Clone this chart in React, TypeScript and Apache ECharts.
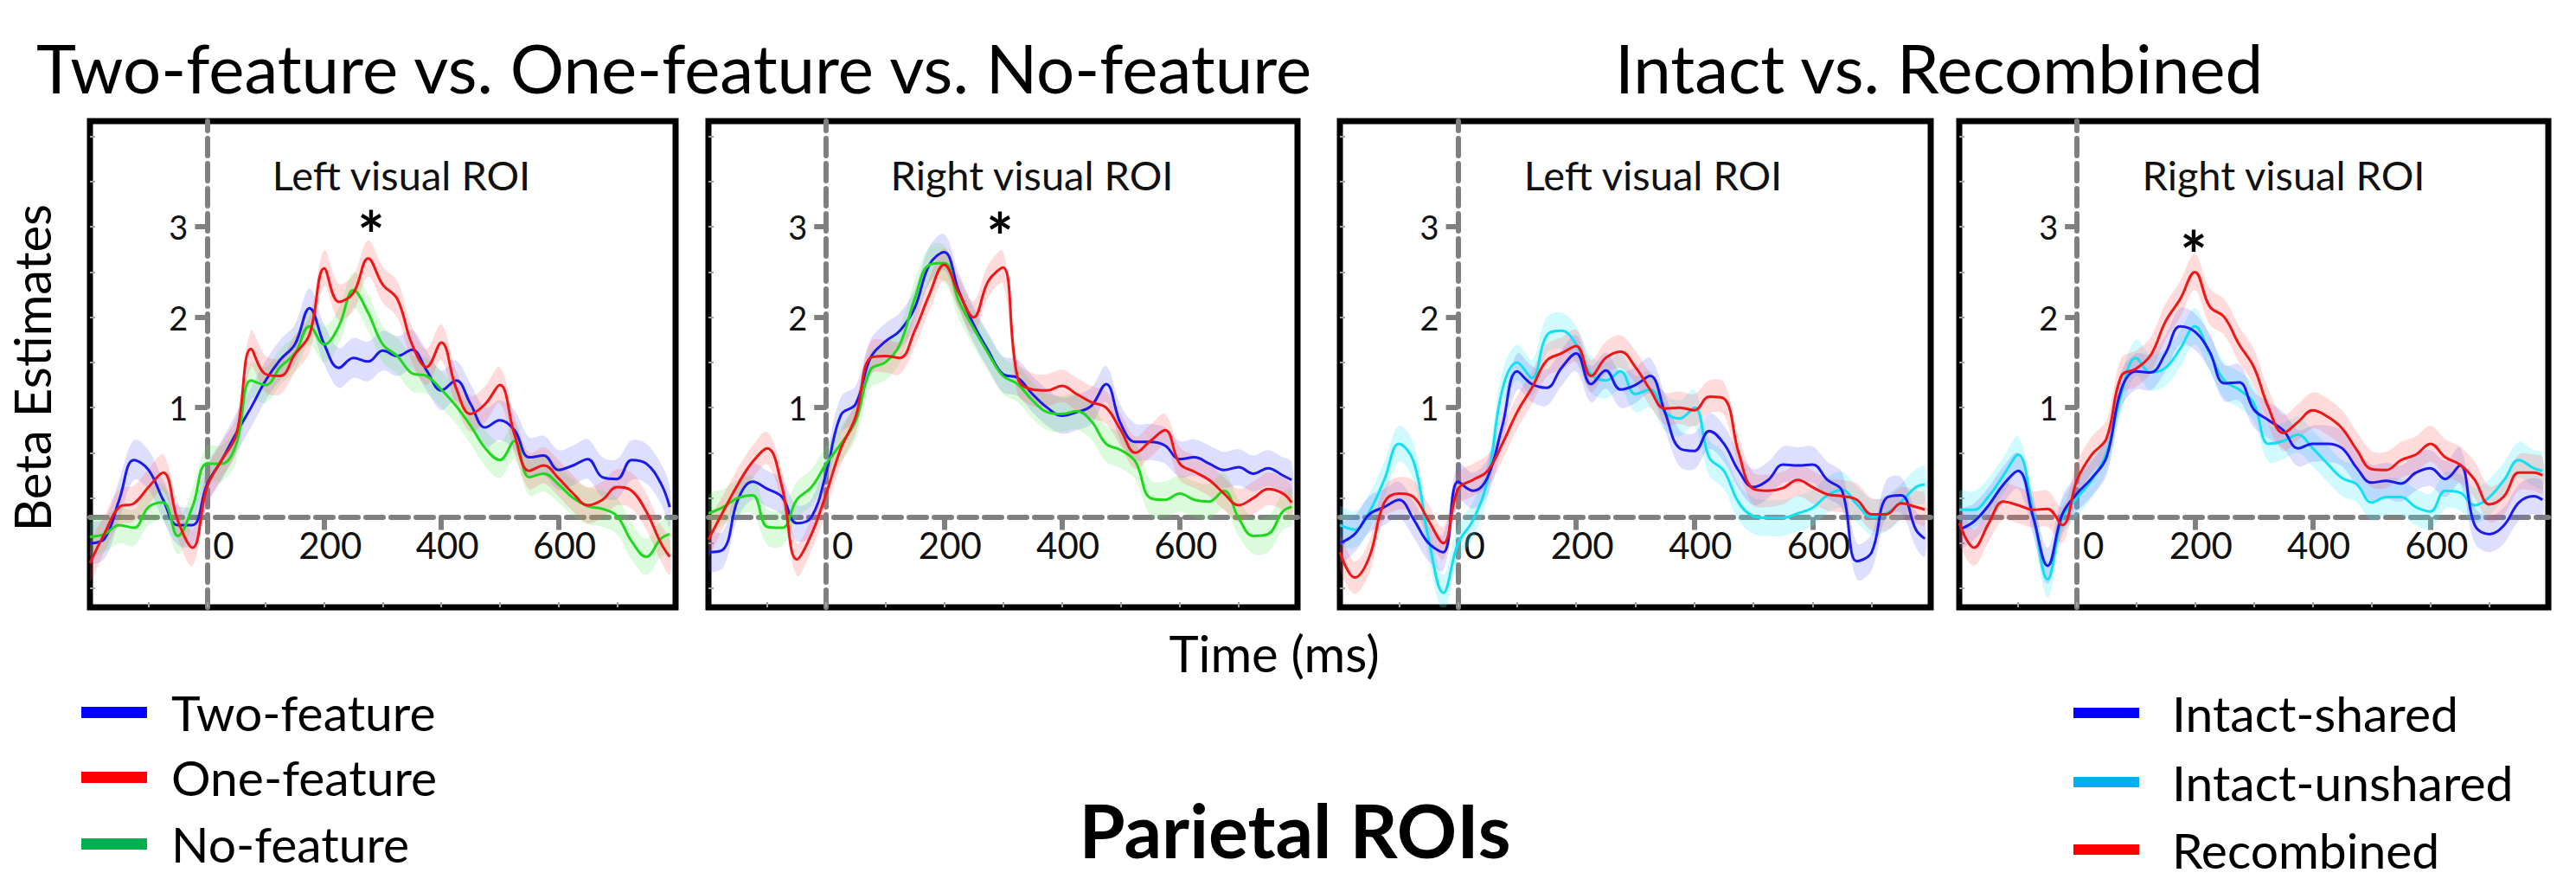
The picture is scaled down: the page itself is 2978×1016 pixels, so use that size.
import React, { useEffect, useRef } from 'react';
import * as echarts from 'echarts';

// ---------- data ----------
const times = [-200, -175, -150, -125, -100, -75, -50, -25, 0, 25, 50, 75, 100, 125, 150, 175, 200, 225, 250, 275, 300, 325, 350, 375, 400, 425, 450, 475, 500, 525, 550, 575, 600, 625, 650, 675, 700, 725, 750, 775, 790];

// Panel 1: Left visual ROI (Two / One / No feature)
const p1Two = [-0.5, -0.45, -0.02, 0.42, 0.31, -0.02, -0.3, -0.3, 0.15, 0.42, 0.72, 1.0, 1.3, 1.53, 1.7, 2.1, 1.7, 1.44, 1.55, 1.51, 1.63, 1.57, 1.64, 1.41, 1.19, 1.3, 1.04, 0.78, 0.86, 0.75, 0.45, 0.47, 0.31, 0.36, 0.43, 0.23, 0.21, 0.42, 0.38, 0.16, -0.1];
const p1One = [-0.72, -0.39, -0.1, -0.06, 0.12, 0.28, -0.25, -0.55, 0.12, 0.42, 0.7, 1.65, 1.37, 1.35, 1.59, 1.81, 2.54, 2.17, 2.27, 2.65, 2.36, 2.2, 1.7, 1.45, 1.72, 1.22, 0.93, 1.04, 1.25, 0.7, 0.3, 0.36, 0.22, 0.05, -0.08, -0.02, 0.12, 0.08, -0.15, -0.5, -0.65];
const p1No = [-0.43, -0.4, -0.3, -0.33, -0.1, -0.05, -0.42, -0.1, 0.38, 0.38, 0.6, 1.3, 1.25, 1.45, 1.6, 1.9, 1.7, 1.9, 2.3, 2.05, 1.7, 1.57, 1.38, 1.35, 1.2, 1.02, 0.8, 0.55, 0.42, 0.63, 0.23, 0.27, 0.15, 0.0, -0.09, -0.12, -0.2, -0.48, -0.65, -0.45, -0.4];

// Panel 2: Right visual ROI (Two / One / No feature)
const p2Two = [-0.6, -0.57, -0.02, 0.18, 0.1, 0.01, -0.28, -0.21, 0.28, 0.92, 1.04, 1.55, 1.73, 1.85, 2.1, 2.58, 2.72, 2.29, 1.92, 1.63, 1.37, 1.33, 1.15, 1.0, 0.91, 0.95, 1.02, 1.26, 0.82, 0.62, 0.62, 0.58, 0.43, 0.45, 0.38, 0.31, 0.34, 0.27, 0.33, 0.25, 0.2];
const p2One = [-0.46, -0.15, 0.15, 0.4, 0.55, 0.12, -0.68, -0.4, 0.05, 0.55, 0.9, 1.55, 1.57, 1.55, 1.85, 2.25, 2.58, 2.27, 2.0, 2.4, 2.55, 1.33, 1.2, 1.19, 1.24, 1.15, 1.06, 1.0, 0.75, 0.5, 0.63, 0.75, 0.38, 0.29, 0.2, 0.05, -0.08, 0.0, 0.1, 0.05, -0.05];
const p2No = [-0.17, -0.1, 0.0, 0.03, -0.32, -0.33, -0.02, 0.12, 0.38, 0.6, 0.85, 1.42, 1.5, 1.7, 2.2, 2.58, 2.6, 2.18, 1.88, 1.6, 1.35, 1.26, 1.08, 0.95, 0.93, 0.96, 0.85, 0.6, 0.53, 0.4, 0.0, -0.02, 0.05, -0.02, -0.04, 0.08, -0.22, -0.42, -0.4, -0.15, -0.1];

// Panel 3: Left visual ROI (Intact-shared / Intact-unshared / Recombined)
const p3Shared = [-0.5, -0.4, -0.18, -0.1, -0.02, -0.24, -0.5, -0.6, 0.18, 0.08, 0.23, 0.8, 1.4, 1.26, 1.22, 1.44, 1.6, 1.26, 1.41, 1.2, 1.25, 1.35, 0.95, 0.55, 0.52, 0.74, 0.6, 0.3, 0.12, 0.2, 0.37, 0.36, 0.37, 0.2, 0.08, -0.7, -0.6, 0.0, 0.03, -0.35, -0.45];
const p3Unshared = [-0.3, -0.35, -0.15, 0.2, 0.6, 0.4, -0.45, -1.05, -0.5, -0.25, 0.2, 1.2, 1.5, 1.33, 1.8, 1.85, 1.7, 1.37, 1.3, 1.4, 1.15, 1.2, 0.95, 0.88, 1.0, 0.45, 0.3, -0.05, -0.2, -0.22, -0.22, -0.17, -0.11, 0.03, 0.09, -0.07, -0.21, -0.17, -0.04, 0.12, 0.15];
const p3Recomb = [-0.6, -0.88, -0.65, -0.05, 0.05, 0.01, -0.25, -0.5, 0.1, 0.2, 0.3, 0.6, 0.95, 1.22, 1.52, 1.6, 1.68, 1.35, 1.55, 1.62, 1.45, 1.2, 0.99, 1.0, 0.97, 1.12, 1.1, 0.5, 0.1, 0.08, 0.11, 0.2, 0.12, 0.04, 0.02, -0.02, -0.18, -0.18, -0.06, -0.1, -0.13];

// Panel 4: Right visual ROI (Intact-shared / Intact-unshared / Recombined)
const p4Shared = [-0.35, -0.26, -0.08, 0.15, 0.3, -0.2, -0.75, -0.18, 0.05, 0.22, 0.45, 1.2, 1.4, 1.39, 1.6, 1.9, 1.84, 1.62, 1.27, 1.28, 0.98, 0.86, 0.75, 0.55, 0.6, 0.6, 0.55, 0.33, 0.17, 0.19, 0.16, 0.28, 0.33, 0.21, 0.36, -0.3, -0.4, -0.3, -0.05, 0.02, -0.02];
const p4Unshared = [-0.13, -0.13, 0.02, 0.25, 0.48, -0.15, -0.9, -0.22, 0.0, 0.2, 0.5, 1.15, 1.55, 1.39, 1.44, 1.65, 1.9, 1.6, 1.3, 1.2, 1.05, 0.6, 0.63, 0.7, 0.55, 0.38, 0.22, 0.15, -0.05, 0.01, 0.01, -0.1, -0.15, 0.08, 0.06, -0.08, 0.01, 0.2, 0.42, 0.33, 0.3];
const p4Recomb = [-0.28, -0.55, -0.28, -0.04, -0.08, -0.13, -0.12, -0.3, 0.2, 0.48, 0.66, 1.35, 1.43, 1.58, 1.95, 2.2, 2.5, 2.12, 2.0, 1.7, 1.45, 1.0, 0.72, 0.84, 0.97, 0.9, 0.77, 0.53, 0.32, 0.31, 0.42, 0.48, 0.6, 0.45, 0.37, 0.2, -0.07, 0.02, 0.28, 0.28, 0.25];

// shaded band half-widths (SE) per line
const p1Err = [0.22, 0.2, 0.2];
const p2Err = [0.2, 0.18, 0.2];
const p3Err = [0.2, 0.2, 0.18];
const p4Err = [0.2, 0.2, 0.2];

const xTickLabels = [0, 200, 400, 600];
const yTickLabels = [1, 2, 3];
const xMinorTicks = [-100, 0, 100, 200, 300, 400, 500, 600, 700];
const yMinorTicks = [-1, -0.5, 0, 0.5, 1, 1.5, 2, 2.5, 3, 3.5, 4];

const leftLegend = ['Two-feature', 'One-feature', 'No-feature'];
const rightLegend = ['Intact-shared', 'Intact-unshared', 'Recombined'];

// ---------- styling / layout ----------
const FONT = 'Lato, "Open Sans", sans-serif';
const GRAY = '#808080';
const X_MIN = -200, X_MAX = 800;
const Y_MIN = -1.21, Y_MAX = 4.17, H_LINE = -0.21;
const TOP = 140, HEIGHT = 562;

const C = {
  blue: '#1a1aee', red: '#f01616', green: '#1ed81e', cyan: '#10e0f2',
  blueBand: 'rgba(90,90,255,0.2)', redBand: 'rgba(255,90,90,0.22)',
  greenBand: 'rgba(80,230,80,0.2)', cyanBand: 'rgba(70,235,255,0.25)',
};

const panels = [
  { left: 104, width: 677, sub: 'Left visual ROI', subX: 464, star: [429, 233],
    lines: [
      { name: 'Two-feature', vals: p1Two, err: p1Err[0], color: C.blue, band: C.blueBand },
      { name: 'No-feature', vals: p1No, err: p1Err[2], color: C.green, band: C.greenBand },
      { name: 'One-feature', vals: p1One, err: p1Err[1], color: C.red, band: C.redBand },
    ] },
  { left: 819, width: 681, sub: 'Right visual ROI', subX: 1193, star: [1156, 235],
    lines: [
      { name: 'Two-feature', vals: p2Two, err: p2Err[0], color: C.blue, band: C.blueBand },
      { name: 'No-feature', vals: p2No, err: p2Err[2], color: C.green, band: C.greenBand },
      { name: 'One-feature', vals: p2One, err: p2Err[1], color: C.red, band: C.redBand },
    ] },
  { left: 1549, width: 683, sub: 'Left visual ROI', subX: 1911, star: null,
    lines: [
      { name: 'Intact-unshared', vals: p3Unshared, err: p3Err[1], color: C.cyan, band: C.cyanBand },
      { name: 'Intact-shared', vals: p3Shared, err: p3Err[0], color: C.blue, band: C.blueBand },
      { name: 'Recombined', vals: p3Recomb, err: p3Err[2], color: C.red, band: C.redBand },
    ] },
  { left: 2265, width: 681, sub: 'Right visual ROI', subX: 2640, star: [2536, 256],
    lines: [
      { name: 'Intact-unshared', vals: p4Unshared, err: p4Err[1], color: C.cyan, band: C.cyanBand },
      { name: 'Intact-shared', vals: p4Shared, err: p4Err[0], color: C.blue, band: C.blueBand },
      { name: 'Recombined', vals: p4Recomb, err: p4Err[2], color: C.red, band: C.redBand },
    ] },
];

function txt(text: string, x: number, y: number, size: number, opts: any = {}) {
  const align = opts.align || 'left';
  const va = opts.va || 'middle';
  return {
    type: 'text', x, y, rotation: opts.rotation || 0, z: 10,
    style: {
      text, fontSize: size, fontFamily: FONT, fontWeight: opts.weight || 'normal',
      fill: opts.color || '#000', align, verticalAlign: va,
      textAlign: align, textVerticalAlign: va,
    },
  };
}

function buildOption() {
  const grid: any[] = [];
  const xAxis: any[] = [];
  const yAxis: any[] = [];
  const series: any[] = [];
  const tickStyle = { color: '#a0a0a0', width: 2 };
  const dashStyle = { color: GRAY, width: 6, type: [20, 9] };
  const hOffset = -((H_LINE - Y_MIN) / (Y_MAX - Y_MIN)) * HEIGHT;

  panels.forEach((p, i) => {
    grid.push({
      left: p.left, top: TOP, width: p.width, height: HEIGHT, show: true,
      borderColor: '#000', borderWidth: 7, backgroundColor: 'transparent',
      containLabel: false, outerBoundsMode: 'none',
    });
    const vOffset = -((0 - X_MIN) / (X_MAX - X_MIN)) * p.width;
    const xa = xAxis.length;
    xAxis.push({
      type: 'value', gridIndex: i, min: X_MIN, max: X_MAX, position: 'bottom',
      axisLine: { show: false, onZero: false },
      axisTick: { show: true, inside: true, length: 6, customValues: xMinorTicks, lineStyle: tickStyle },
      axisLabel: { show: false }, splitLine: { show: false },
    });
    xAxis.push({
      type: 'value', gridIndex: i, min: X_MIN, max: X_MAX, position: 'bottom', offset: hOffset,
      axisLine: { show: true, onZero: false, lineStyle: dashStyle },
      axisTick: { show: true, inside: false, length: 15, customValues: xTickLabels.filter((v) => v !== 0), lineStyle: { color: GRAY, width: 6 } },
      axisLabel: {
        show: true, customValues: xTickLabels, margin: 11,
        formatter: (v: number) => (v === 0 ? `{z|${v}}` : `{n|${v}}`),
        rich: {
          z: { padding: [0, 0, 0, 38], fontSize: 42, fontFamily: FONT, color: '#111', lineHeight: 42 },
          n: { padding: [0, 0, 0, 14], fontSize: 42, fontFamily: FONT, color: '#111', lineHeight: 42 },
        },
      },
      splitLine: { show: false },
    });
    const ya = yAxis.length;
    yAxis.push({
      type: 'value', gridIndex: i, min: Y_MIN, max: Y_MAX, position: 'left',
      axisLine: { show: false, onZero: false },
      axisTick: { show: true, inside: true, length: 6, customValues: yMinorTicks, lineStyle: tickStyle },
      axisLabel: { show: false }, splitLine: { show: false },
    });
    yAxis.push({
      type: 'value', gridIndex: i, min: Y_MIN, max: Y_MAX, position: 'left', offset: vOffset,
      axisLine: { show: true, onZero: false, lineStyle: dashStyle },
      axisTick: { show: true, inside: false, length: 14, customValues: yTickLabels, lineStyle: { color: GRAY, width: 6 } },
      axisLabel: { show: true, customValues: yTickLabels, margin: 22, fontSize: 38, fontFamily: FONT, color: '#111' },
      splitLine: { show: false },
    });

    // shaded SE bands (drawn as polygons through the axes' scales)
    p.lines.forEach((ln) => {
      series.push({
        type: 'custom', xAxisIndex: xa, yAxisIndex: ya, silent: true, z: 2, clip: true,
        data: [[0, 0]],
        renderItem: (_params: any, api: any) => {
          const up = times.map((t, k) => api.coord([t, ln.vals[k] + ln.err]));
          const lo = times.map((t, k) => api.coord([t, ln.vals[k] - ln.err])).reverse();
          return {
            type: 'polygon',
            shape: { points: up.concat(lo), smooth: 0.35 },
            style: { fill: ln.band, stroke: null },
          };
        },
      });
    });
    p.lines.forEach((ln) => {
      series.push({
        type: 'line', name: ln.name, xAxisIndex: xa, yAxisIndex: ya, smooth: 0.4, symbol: 'none',
        z: 3, animation: false,
        data: times.map((t, k) => [t, ln.vals[k]]),
        lineStyle: { color: ln.color, width: 3 },
      });
    });
  });

  const graphic: any[] = [
    txt('Two-feature vs. One-feature vs. No-feature', 42, 78, 78),
    txt('Intact vs. Recombined', 1867, 78, 78),
    txt('Beta Estimates', 36, 425, 58, { align: 'center', rotation: Math.PI / 2 }),
    txt('Time (ms)', 1473, 754, 58, { align: 'center' }),
    txt('Parietal ROIs', 1497, 958, 86, { align: 'center', weight: 'bold' }),
  ];
  panels.forEach((p) => {
    graphic.push(txt(p.sub, p.subX, 202, 47, { align: 'center', color: '#111' }));
    if (p.star) graphic.push(txt('*', p.star[0], p.star[1], 74, { align: 'center', weight: 'bold', va: 'top' }));
  });
  const leftSw = ['#0000ff', '#ff0000', '#00b050'];
  const leftY = [823, 898, 975];
  leftLegend.forEach((name, k) => {
    graphic.push({ type: 'rect', shape: { x: 94, y: leftY[k] - 6, width: 76, height: 13 }, style: { fill: leftSw[k] }, z: 10 });
    graphic.push(txt(name, 198, leftY[k], 57));
  });
  const rightSw = ['#0000ff', '#00b0f0', '#ff0000'];
  const rightY = [824, 904, 982];
  rightLegend.forEach((name, k) => {
    graphic.push({ type: 'rect', shape: { x: 2397, y: rightY[k] - 6, width: 76, height: 12 }, style: { fill: rightSw[k] }, z: 10 });
    graphic.push(txt(name, 2511, rightY[k], 57));
  });

  return {
    animation: false,
    backgroundColor: '#ffffff',
    grid, xAxis, yAxis, series, graphic,
  };
}

export default function App() {
  const ref = useRef<HTMLDivElement>(null);
  useEffect(() => {
    if (!ref.current) return;
    const chart = echarts.init(ref.current, null, { renderer: 'svg' });
    chart.setOption(buildOption() as any);
    return () => chart.dispose();
  }, []);
  return (
    <div
      ref={ref}
      style={{ position: 'fixed', left: 0, top: 0, width: 2978, height: 1016, background: '#fff' }}
    />
  );
}
